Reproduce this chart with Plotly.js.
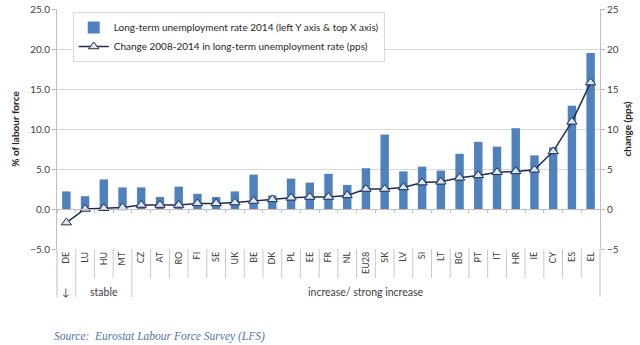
<!DOCTYPE html>
<html>
<head>
<meta charset="utf-8">
<script src="https://cdn.plot.ly/plotly-3.0.1.min.js"></script>
<style>html,body{margin:0;padding:0;background:#fff;}#chart{width:640px;height:345px;}</style>
</head>
<body>
<div id="chart"></div>
<script>
const countries = ["DE","LU","HU","MT","CZ","AT","RO","FI","SE","UK","BE","DK","PL","EE","FR","NL","EU28","SK","LV","SI","LT","BG","PT","IT","HR","IE","CY","ES","EL"];
const rate2014 = [2.2,1.6,3.7,2.7,2.7,1.5,2.8,1.9,1.5,2.2,4.3,1.7,3.8,3.3,4.4,3.0,5.1,9.3,4.7,5.3,4.8,6.9,8.4,7.8,10.1,6.7,7.7,12.9,19.5];
const change0814 = [-1.7,0.0,0.1,0.2,0.5,0.5,0.5,0.7,0.7,0.8,1.0,1.2,1.4,1.5,1.5,1.7,2.5,2.5,2.7,3.3,3.4,3.9,4.2,4.6,4.7,4.9,7.2,10.9,15.8];
const leftTicks = [-5,0,5,10,15,20,25];
const groups = [{label:"\u2193", at:0},{label:"stable", at:2},{label:"increase/ strong increase", at:16}];
const groupBounds = [0.5, 3.5];

const font = "Lato, 'Open Sans', sans-serif";
const txt = "#404040";

const traces = [
  {type:"bar", x:countries, y:rate2014, name:"Long-term unemployment rate 2014 (left Y axis & top X axis)",
   marker:{color:"#4f81bd"}, xaxis:"x", yaxis:"y"},
  {type:"scatter", mode:"lines+markers", x:countries, y:change0814,
   name:"Change 2008-2014 in long-term unemployment rate (pps)",
   line:{color:"#1f2d4d", width:1.5},
   marker:{symbol:"triangle-up", size:9, color:"#dce6f2", line:{color:"#1f2d4d", width:1}},
   xaxis:"x2", yaxis:"y2"}
];

const shapes = [];
for (let i = 1; i < countries.length; i++) {
  shapes.push({type:"line", xref:"x", yref:"paper", x0:i-0.5, x1:i-0.5, y0:0, y1:-0.121,
    line:{color:"#c8c8c8", width:1}});
}
groupBounds.forEach(b => shapes.push({type:"line", xref:"x", yref:"paper", x0:b, x1:b, y0:-0.121, y1:-0.2,
    line:{color:"#c8c8c8", width:1}}));
[0,1].forEach(p => shapes.push({type:"line", xref:"paper", yref:"paper", x0:p, x1:p, y0:0, y1:-0.2,
    line:{color:"#bfbfbf", width:1}}));

const annotations = groups.map(g => ({xref:"x", yref:"paper", x:g.at, y:-0.179, text:g.label,
  showarrow:false, font:{family:font, size:10.5, color:txt}, xanchor:"center", yanchor:"middle"}));
annotations.push({xref:"paper", yref:"paper", x:-0.01, y:-0.365, xanchor:"left", yanchor:"middle",
  text:"<i>Source:  Eurostat Labour Force Survey (LFS)</i>", showarrow:false,
  font:{family:"'Liberation Serif', serif", size:11.5, color:"#4f75a8"}});

const layout = {
  width:640, height:345,
  margin:{l:57, r:40, t:9, b:96},
  paper_bgcolor:"#fff", plot_bgcolor:"#fff",
  font:{family:font, color:txt, size:10},
  bargap:0.55,
  showlegend:true,
  legend:{x:0.029, y:0.9875, xanchor:"left", yanchor:"top", bgcolor:"#fff", bordercolor:"#d9d9d9", borderwidth:1,
    font:{family:font, size:10, color:"#262626"}, itemwidth:30, tracegroupgap:2},
  xaxis:{type:"category", categoryarray:countries, categoryorder:"array", range:[-0.5, countries.length-0.5],
    tickangle:-90, ticks:"", showline:false, showgrid:false, zeroline:false,
    tickfont:{family:font, size:9, color:txt}},
  xaxis2:{type:"category", categoryarray:countries, categoryorder:"array", range:[-0.5, countries.length-0.5],
    overlaying:"x", anchor:"free", position:5/30, side:"bottom", showline:true, linecolor:"#bfbfbf", linewidth:1,
    ticks:"outside", ticklen:3, tickcolor:"#bfbfbf", tickson:"boundaries", showticklabels:false, showgrid:false, zeroline:false},
  yaxis:{range:[-5,25], tickvals:leftTicks, tickformat:".1f", showgrid:true, gridcolor:"#d9d9d9", zeroline:false,
    showline:true, linecolor:"#bfbfbf", ticks:"outside", ticklen:4, tickcolor:"#bfbfbf",
    tickfont:{family:font, size:10, color:txt},
    title:{text:"<b>% of labour force</b>", font:{family:font, size:10, color:"#262626"}, standoff:8}},
  yaxis2:{range:[-5,25], tickvals:leftTicks, overlaying:"y", side:"right", anchor:"x2", showgrid:false, zeroline:false,
    showline:true, linecolor:"#bfbfbf", ticks:"outside", ticklen:4, tickcolor:"#bfbfbf",
    tickfont:{family:font, size:10, color:txt},
    title:{text:"<b>change (pps)</b>", font:{family:font, size:10, color:"#262626"}, standoff:6}},
  shapes:shapes,
  annotations:annotations
};

Plotly.newPlot("chart", traces, layout, {displayModeBar:false, staticPlot:true});
</script>
</body>
</html>
